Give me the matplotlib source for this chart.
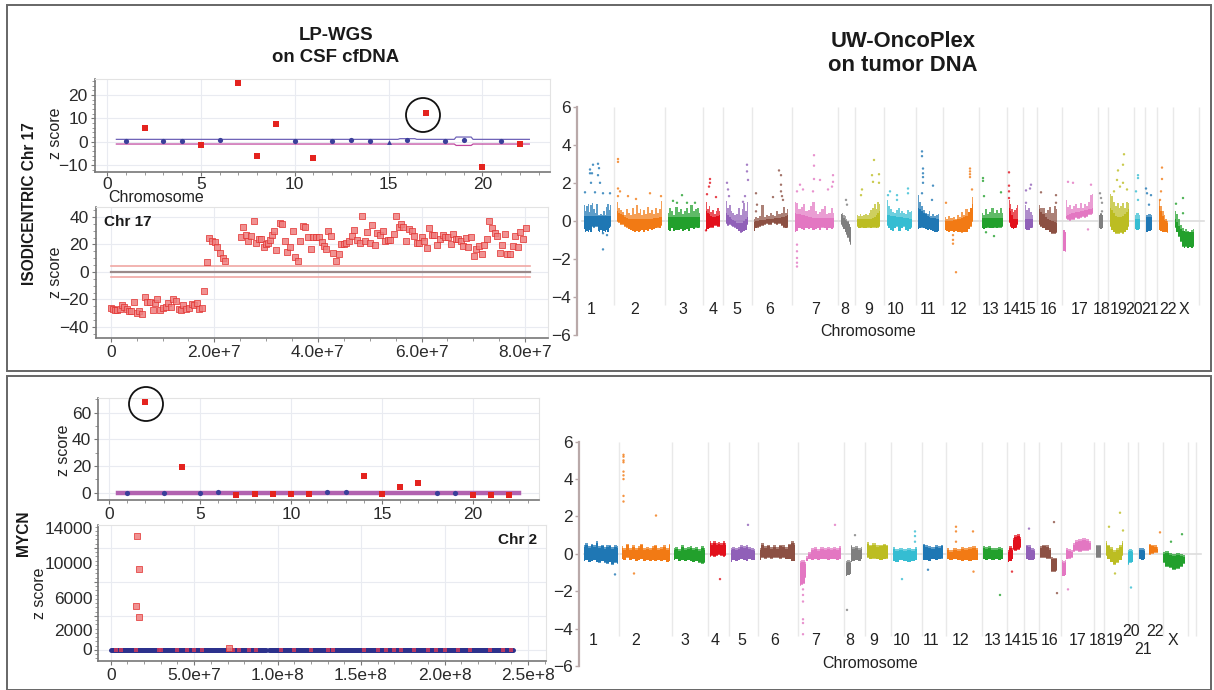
import numpy as np
import matplotlib
matplotlib.use("Agg")
import matplotlib.pyplot as plt
from matplotlib.patches import Rectangle, Ellipse
from matplotlib.ticker import MultipleLocator

plt.rcParams['font.family'] = ['Liberation Sans', 'DejaVu Sans']

W, H = 1214, 690

# ---------- LP-WGS, isodicentric 17: genome-wide ----------
a_red_chr = [2, 5, 7, 8, 9, 11, 17, 20, 22]
a_red_z = [6, -1.5, 25, -6, 7.5, -7, 12.2, -11, -1]
a_blue_chr = [1, 3, 4, 6, 10, 12, 13, 14, 16, 18, 19, 21]
a_blue_z = [.5, .3, .3, .8, .1, .5, .6, .4, .8, .4, .8, .3]
a_tri_chr = [15]
a_tri_z = [-.3]
band_chr = [.5, 15.5, 15.6, 16.4, 16.5, 18.5, 18.6, 19.4, 19.5, 22.5]
a_band_hi = [1, 1, 1.3, 1.3, 1, 1, 2, 2, 1, 1]
a_band_lo = [-1, -1, -1, -1, -1, -1, -1.6, -1.6, -1, -1]

# ---------- LP-WGS, Chr 17 bins ----------
c17_pos = [0, .4, .8, 1.3, 1.7, 2.1, 2.6, 3.1, 3.6, 4.0, 4.5, 5.0, 5.5, 6.0, 6.6, 7.1, 7.6, 8.1, 8.5, 9.0,
           9.5, 10.0, 10.6, 11.1, 11.6, 12.1, 12.6, 13.1, 13.6, 14.0, 14.5, 15.1, 15.6, 16.1, 16.6, 17.1, 17.6, 18.0,
           18.5, 19.0, 19.6, 20.1, 20.6, 21.1, 21.6, 22.0,
           25.1, 25.6, 26.1, 26.6, 27.0, 27.6, 28.1, 28.6, 29.1, 29.6, 30.0, 30.4, 30.8, 31.1, 31.5, 32.0, 32.6, 33.1,
           33.6, 34.1, 34.6, 35.1, 35.6, 36.1, 36.6, 37.1, 37.6, 38.1, 38.6, 39.1, 39.6, 40.2, 40.7, 41.1, 41.6,
           41.9, 42.5, 43.0, 43.5, 44.0, 44.5, 45.0, 45.5, 46.1, 46.5, 47.0, 47.5, 48.1, 48.5, 49.0, 49.5, 50.0, 50.5,
           51.0, 51.5, 52.0, 52.5, 53.0, 53.5, 54.0, 54.6, 55.1, 55.6, 56.1, 56.5, 57.1, 57.6, 58.1, 58.6, 59.1, 59.6,
           60.0, 60.5, 61.0, 61.5, 62.0, 62.5, 63.0, 63.5, 64.1, 64.6, 65.1, 65.6, 66.1, 66.6, 67.1, 67.6, 68.1, 68.6,
           69.0, 69.5, 70.1, 70.6, 71.1, 71.6, 72.1, 72.6, 73.1, 73.6, 74.1, 74.6, 75.1, 75.6, 76.1, 76.6, 77.1, 77.7,
           78.1, 78.6, 79.1, 79.6, 80.1]
c17_z = [-26.2, -27.2, -27.6, -27.6, -26.7, -23.8, -25.2, -26.7, -28.1, -28.1, -22.1, -29.6, -28.6, -30.5, -18.4,
         -21.8, -22.1, -27.6, -22.5, -19.4, -27.6, -26.2, -25.2, -22.3, -25.2, -19.9, -21.3, -27.2, -27.6, -23.8,
         -26.7, -26.2, -23.3, -23.8, -22.8, -27.2, -26.2, -13.8,
         7.3, 24.7, 22.3, 21.8, 18.4, 13.6, 10.2, 8.2,
         25.2, 33.0, 27.2, 22.8, 25.9, 37.1, 21.3, 23.8, 23.8, 18.2, 20.4, 21.3, 23.5, 26.7, 29.6, 15.8, 35.9, 34.7,
         22.8, 14.8, 17.9, 29.8, 10.7, 8.0, 22.3, 33.2, 33.0, 25.5, 16.7, 25.5, 25.5, 25.5, 21.8, 18.9, 17.0,
         29.6, 26.2, 13.6, 8.2, 12.8, 20.4, 20.4, 21.3, 22.5, 26.4, 30.3, 23.3, 20.8, 40.7, 22.5, 28.8, 21.1, 34.2,
         19.9, 28.1, 27.2, 29.6, 22.3, 23.3, 23.5, 27.9, 41.0, 32.7, 35.2, 32.5, 22.3, 31.3, 30.1, 26.2, 20.8, 20.8,
         25.7, 22.8, 17.7, 32.2, 26.9, 26.7, 19.6, 24.2, 26.7, 25.2, 25.2, 20.6, 27.4, 24.2, 24.2, 22.3, 18.7, 24.7,
         17.9, 25.7, 11.4, 17.0, 19.2, 13.3, 19.9, 24.2, 37.1, 32.0, 28.6, 26.2, 14.1, 19.4, 27.4, 13.3, 13.1, 18.7,
         26.2, 17.9, 29.1, 24.0, 32.2]

# ---------- LP-WGS, MYCN: genome-wide ----------
c_red_chr = [2, 4, 7, 8, 9, 10, 11, 14, 15, 16, 17, 20, 21, 22]
c_red_z = [68, 19, -1.5, -1, -1, -1, -1, 12.5, -1, 4, 7, -1.5, -2, -1.5]
c_blue_chr = [1, 3, 5, 6, 12, 13, 18, 19]
c_blue_z = [-.5, 0, -.3, .3, .5, .2, 0, 0]

# ---------- LP-WGS, Chr 2 bins ----------
d_high_pos = [16.05, 16.7, 15.2, 17.1, 70.6]
d_high_z = [13370, 9490, 5180, 3840, 200]
d_base_pos = [3, 6, 15, 29, 30, 40, 46, 50, 55, 70, 73, 77, 83, 87, 102, 110, 120, 130, 133, 152, 160, 165, 170,
              174, 182, 190, 195, 200, 208, 215, 227, 235, 240]
d_base_z = [-60] * len(d_base_pos)
d_line_a = [0, 93]
d_line_b = [95, 241]
d_line_z = [0, 0]

# ---------- UW-OncoPlex ----------
tab = {'blue': '#1f77b4', 'orange': '#f27a14', 'green': '#22a02c', 'red': '#e2101c', 'purple': '#9060b8',
       'brown': '#8c5043', 'pink': '#e377c2', 'grey': '#7f7f7f', 'olive': '#bcbd22', 'cyan': '#35bdd2'}

chrom_names = ['1', '2', '3', '4', '5', '6', '7', '8', '9', '10', '11', '12', '13', '14', '15', '16', '17', '18',
               '19', '20', '21', '22', 'X']

top_bounds = [614, 665, 703, 723, 752, 792, 838, 855, 884, 916, 943, 979, 1007, 1023, 1037, 1062, 1098, 1108, 1134,
              1145, 1157, 1173, 1199]
top_label_pos = [591, 635, 683, 713.5, 737, 770, 815.5, 845, 868.6, 896, 928, 959, 991, 1012, 1028, 1048.7, 1080,
                 1102, 1118.7, 1134.5, 1150, 1168, 1183.6]
# start, end, colour, dense-core ceiling, upper envelope, lower envelope
top_blocks = [
    (584, 611, 'blue', [.25], [.85, .5, .8, .9, .45, .85, .95, .6, .4, .9, .3, .3, .35, .3, .5, .3, .75, .9, .55, .85],
     [-.45, -.6, -.55, -.6, -.5, -.6, -.3, -.35, -.3, -.3, -.55, -.6, -.5, -.65, -.55, -.6, -.5, -.6, -.4, -.3]),
    (617, 662, 'orange', [.5, .1, .1, .1, .2],
     [1.0, .7, .55, .45, .3, .6, .4, .3, .7, .35, .85, .4, .6, .3, .55, .35, .75, .4, .55, .35, .7, .4, .6, 1.05],
     [-.05, -.1, -.2, -.2, -.3, -.35, -.45, -.5, -.55, -.6, -.55, -.6, -.55, -.5, -.6, -.5, -.55, -.45, -.5, -.45, -.4, -.35, -.4, -.25]),
    (668, 700, 'green', [.2], [.4, .7, .5, .3, .75, .45, .6, .35, .5, .7, .4, .85, .5, .6, .7, .4],
     [-.5, -.55, -.4, -.55, -.5, -.5, -.45, -.55, -.5, -.45, -.55, -.4, -.45, -.35, -.4, -.35]),
    (706, 720, 'red', [.5, .2, .3], [1.0, .6, .8, .45, .55, .35, .5, .65, .5],
     [-.55, -.45, -.4, -.35, -.35, -.25, -.25, -.3, -.3]),
    (726, 748, 'purple', [.4, .1, -.1, -.1, .2], [1.05, .7, .85, .5, .4, .3, .35, .7, .3, .6, .95, .5, 1.0],
     [-.15, -.25, -.2, -.25, -.3, -.35, -.45, -.55, -.65, -.6, -.55, -.5, -.2]),
    (754, 788, 'brown', [-.05, .05, .1, .15, .3], [.1, .2, .15, .25, .85, .2, .3, .25, .4, .3, .25, .5, .35, .4, .75, .4, .6],
     [-.55, -.4, -.35, -.3, -.25, -.2, -.15, -.2, -.2, -.1, -.15, -.2, -.15, -.25, -.35, -.4, -.35]),
    (795, 834, 'pink', [.4, .15, .15], [1, .95, .6, .75, .9, .5, .55, .8, 1, .5, .35, .45, .6, .8, .35, .4, .7, .4],
     [-.6, -.55, -.4, -.45, -.5, -.4, -.45, -.4, -.5, -.45, -.4, -.5, -.35, -.4, -.5, -.4, -.45, -.35]),
    (841, 851, 'grey', [.4, 0, -.2], [.35, .4, .3, .25, .1, 0, -.15, -.3], [-.2, -.3, -.45, -.6, -.75, -.9, -1.1, -1.25]),
    (857, 880, 'olive', [.1, .1, .1, .5], [.3, .25, .35, .25, .3, .35, .3, .4, .55, .7, .9, .6, 1, .9],
     [-.3, -.4, -.4, -.35, -.4, -.4, -.35, -.35, -.4, -.35, -.35, -.4, -.35, -.3]),
    (887, 912, 'cyan', [.3, .1], [1.1, .8, .6, .45, .4, .55, .7, .4, .5, .4, .35, .55, .45, .5],
     [-.25, -.4, -.5, -.55, -.4, -.3, -.55, -.55, -.4, -.3, -.5, -.55, -.45, -.35]),
    (918, 939, 'blue', [.7, .2, .1], [1.35, 1.0, .8, .55, .4, .35, .5, .25, .35, .25, .3, .35],
     [-.45, -.4, -.35, -.4, -.45, -.5, -.45, -.5, -.55, -.6, -.6, -.55]),
    (945, 973, 'orange', [0, 0, .1, .2, .9], [.2, .1, .25, .15, .2, .1, .3, .2, .45, .3, .6, .45, .7, 1.25],
     [-.5, -.55, -.6, -.55, -.6, -.55, -.6, -.6, -.65, -.6, -.6, -.45, -.3, -.05]),
    (982, 1003, 'green', [.15], [.4, .3, .6, .35, .45, .7, .4, .55, .4, .65, .4],
     [-.4, -.45, -.4, -.35, -.4, -.4, -.35, -.4, -.35, -.35, -.3]),
    (1009, 1018, 'red', [.7, .1, .1], [1.1, .9, .6, .45, .55, .65, .85], [-.1, -.3, -.4, -.45, -.4, -.35, -.2]),
    (1025, 1033, 'purple', [.1], [.85, .55, .65, .45, .3], [-.45, -.5, -.5, -.4, -.35]),
    (1039, 1057, 'brown', [.6, .1, -.1], [.85, .65, .7, .4, .55, .75, .4, .8, .6], [-.2, -.3, -.4, -.5, -.5, -.6, -.7, -.7, -.65]),
    (1063, 1066, 'pink', [-.5], [-.5, -.6], [-1.6, -1.65]),
    (1066, 1093, 'pink', [.25, .45, .55, .65], [1.1, .75, .85, .6, .8, .9, .65, .95, .7, .9, .8, 1.0, 1.35, 1.4],
     [.1, .05, 0, .05, .05, .15, .1, .15, .2, .15, .2, .3, .3, .35]),
    (1099, 1103, 'grey', [.35], [.3, .4, .3], [-.4, -.45, -.4]),
    (1110, 1129, 'olive', [.7, .2, .2, .6], [1.4, 1.3, 1.0, .8, .95, .7, .8, .95, .7, 1.0, .95],
     [-.3, -.5, -.6, -.7, -.7, -.7, -.65, -.7, -.6, -.5, -.3]),
    (1135, 1140, 'cyan', [.1], [.3, .4, .3], [-.45, -.5, -.45]),
    (1146, 1152, 'blue', [.2], [.3, .35, .3], [-.6, -.55, -.5]),
    (1159, 1168, 'orange', [.8, .1, -.1], [1.1, .8, .5, .3, .1, 0], [-.5, -.55, -.6, -.6, -.6, -.65]),
    (1175, 1194, 'green', [.1, -.5, -.6, -.6], [.5, .35, .1, -.2, -.4, -.55, -.45, -.55, -.6, -.5, -.45],
     [-.35, -.6, -.85, -1.1, -1.35, -1.45, -1.35, -1.45, -1.4, -1.45, -1.35]),
]
top_out_x = [590, 593, 598, 599, 590, 592, 598, 591, 595, 600, 585, 603, 610, 603, 607, 603,
             618, 618, 618, 620, 618, 628, 636, 650, 661,
             673, 682, 677, 695, 687,
             710, 710, 707, 709, 716, 706,
             727, 728, 729, 747, 747, 748, 745, 743,
             756, 757, 756, 779, 781, 781, 781, 782, 783, 773,
             797, 797, 797, 797, 797, 814, 814, 814, 820, 833, 833, 832, 828, 800, 803, 797, 813,
             846, 847,
             874, 872, 879, 873, 879, 862, 861,
             890, 888, 897, 908, 908, 897,
             922, 922, 923, 923, 923, 923, 922, 933, 932,
             970, 970, 970, 970, 972, 946, 953, 953, 953, 956,
             983, 983, 984, 1001, 994, 986,
             1009, 1009, 1009, 1009,
             1031, 1030, 1026, 1026,
             1041, 1056, 1056,
             1068, 1073, 1091, 1088,
             1100, 1101, 1102, 1102,
             1124, 1123, 1118, 1117, 1123, 1127, 1114, 1120,
             1138, 1138, 1136, 1138,
             1146, 1151, 1147, 1149,
             1162, 1162, 1161, 1160,
             1183, 1176, 1183]
top_out_y = [2.7, 2.95, 3.0, 2.77, 2.5, 2.5, 2.4, 2.0, 1.5, 2.0, 1.5, 1.45, 1.45, -.65, -.75, -1.5,
             3.25, 3.1, 1.7, 1.55, 1.3, 1.3, 1.15, 1.45, 1.3,
             1.05, 1.35, .95, .95, .95,
             2.2, 2.0, 1.4, 1.8, 1.25, -.5,
             2.0, 1.65, 1.3, 2.95, 2.6, 2.15, 1.3, 1.0,
             1.45, .85, .5, 2.65, 2.4, 1.9, 1.55, 1.3, 1.1, 1.25,
             -1.25, -1.6, -1.95, -2.2, -2.4, 3.45, 2.9, 2.2, 2.15, 2.4, 2.05, 1.8, 1.65, 1.9, 1.65, 1.55, 1.55,
             1.1, .85,
             3.2, 2.4, 2.45, 2.05, 2.0, 1.65, 1.35,
             1.55, 1.35, 1.35, 1.7, 1.45, 1.1,
             3.65, 3.4, 2.75, 2.5, 2.3, 2.0, 1.45, 1.85, 1.1,
             2.75, 2.6, 2.45, 2.3, 1.65, .95, -.75, -1.0, -1.2, -2.7,
             2.25, 2.1, 1.3, 1.5, -.8, -.6,
             2.55, 1.85, 1.55, 1.2,
             1.9, 1.7, 1.6, .95,
             1.5, 1.35, .95,
             2.05, 2.0, 1.9, -.45,
             1.45, 1.2, .95, .5,
             3.5, 2.95, 2.65, 2.15, 2.0, 1.65, 1.55, 1.8,
             2.4, 2.25, 1.55, 1.1,
             1.7, 1.35, 1.45, .85,
             2.8, 2.2, 1.55, 1.1,
             1.2, .9, .4]
top_out_c = (['blue'] * 16 + ['orange'] * 9 + ['green'] * 5 + ['red'] * 6 + ['purple'] * 8 + ['brown'] * 10 +
             ['pink'] * 17 + ['grey'] * 2 + ['olive'] * 7 + ['cyan'] * 6 + ['blue'] * 9 + ['orange'] * 10 +
             ['green'] * 6 + ['red'] * 4 + ['purple'] * 4 + ['brown'] * 3 + ['pink'] * 4 + ['grey'] * 4 +
             ['olive'] * 8 + ['cyan'] * 4 + ['blue'] * 4 + ['orange'] * 4 + ['green'] * 3)

bot_bounds = [619, 672, 708, 729, 758, 798, 844, 865, 891, 922, 946, 982, 1007, 1024, 1039, 1061, 1094, 1104, 1128,
              1138, 1163, 1188, 1196]
bot_label_pos = [593, 636, 685, 715, 742, 775, 815.5, 850, 874, 901.7, 931.5, 961, 992.7, 1012.6, 1030, 1050, 1077.6,
                 1098, 1115, 1131, 1142.6, 1155, 1173]
bot_label_y = [-4.65] * 19 + [-4.16, -5.1, -4.16, -4.65]
bot_blocks = [
    (584, 618, 'blue', None, [.45, .6, .4, .55, .45, .7, .4, .5, .35, .45, .5, .35, .45, .4],
     [-.4, -.35, -.45, -.4, -.35, -.45, -.5, -.4, -.5, -.55, -.45, -.6, -.5, -.55]),
    (622, 670, 'orange', None, [.4, .3, .55, .3, .45, .3, .4, .55, .3, .35, .3, .4, .5, .3, .35, .45, .3, .55],
     [-.3, -.35, -.2, -.35, -.3, -.4, -.35, -.3, -.4, -.35, -.4, -.35, -.4, -.35, -.4, -.35, -.45, -.4]),
    (674, 705, 'green', None, [.3, .35, .25, .45, .3, .35, .4, .3, .35, .25, .4, .3],
     [-.35, -.3, -.4, -.35, -.4, -.35, -.4, -.45, -.4, -.5, -.55, -.5]),
    (710, 726, 'red', None, [.7, .6, .7, .6, .65, .6, .7, .6], [-.15, -.1, -.15, -.1, -.05, -.1, -.15, -.1]),
    (731, 755, 'purple', None, [.3, .35, .3, .35, .45, .4, .45, .35, .3, .25],
     [-.45, -.35, -.4, -.35, -.3, -.35, -.4, -.3, -.35, -.35]),
    (760, 795, 'brown', None, [.3, .6, .4, .5, .35, .45, .35, .5, .45, .35, .55, .7, .6],
     [-.35, -.2, -.25, -.2, -.25, -.2, -.2, -.25, -.2, -.3, -.3, -.4, -.4]),
    (800, 806, 'pink', None, [-.4, -.35, -.35, -.45], [-1.7, -1.65, -1.6, -1.3]),
    (806, 841, 'pink', None, [-.1, .1, .3, .35, .25, .35, .3, .35, .3, .35, .3, .4],
     [-.4, -.3, -.35, -.3, -.35, -.3, -.3, -.35, -.3, -.3, -.35, -.3]),
    (846, 851, 'grey', None, [-.4, -.35, -.4], [-1.2, -1.15, -1.1]),
    (851, 862, 'grey', None, [.5, .35, .4, .3, .35], [-.45, -.4, -.35, -.4, -.3]),
    (867, 888, 'olive', None, [.65, .5, .6, .45, .5, .55, .5], [-.2, -.3, -.25, -.3, -.35, -.3, -.25]),
    (893, 917, 'cyan', None, [.35, .25, .3, .25, .3, .25, .35], [-.4, -.45, -.35, -.4, -.45, -.4, -.35]),
    (923, 943, 'blue', None, [.55, .45, .4, .35, .45, .4, .5], [-.35, -.35, -.4, -.3, -.35, -.3, -.25]),
    (947, 978, 'orange', None, [.3, .2, .3, .25, .35, .3, .35, .4, .3], [-.3, -.35, -.3, -.35, -.4, -.35, -.4, -.35, -.35]),
    (983, 1003, 'green', None, [.4, .35, .4, .3, .3, .35, .3], [-.3, -.35, -.3, -.35, -.3, -.35, -.3]),
    (1008, 1013, 'red', None, [.2, .4, .3], [-.45, -.4, -.3]),
    (1013, 1021, 'red', None, [.85, 1.0, 1.05, .9], [.2, .15, .2, .3]),
    (1026, 1035, 'purple', None, [.5, .45, .3, .25], [-.3, -.35, -.35, -.3]),
    (1040, 1051, 'brown', None, [.4, .5, .45, .3], [-.2, -.2, -.25, -.25]),
    (1051, 1057, 'brown', None, [-.15, -.2, -.2], [-.95, -.95, -.9]),
    (1062, 1066, 'pink', None, [-.35, -.4, -.35], [-1.2, -1.2, -1.15]),
    (1066, 1073, 'pink', None, [.3, .25, .2], [-.3, -.25, -.2]),
    (1073, 1091, 'pink', None, [.6, .75, .8, .85, .8, .7], [.1, .15, .1, .15, .15, .2]),
    (1096, 1101, 'grey', None, [.5, .5], [-.2, -.2]),
    (1106, 1123, 'olive', None, [.7, .5, .35, .2, .3, .45, .7], [-.1, -.3, -.45, -.6, -.5, -.35, -.1]),
    (1128, 1133, 'cyan', None, [.2, .25, .2], [-.6, -.5, -.45]),
    (1139, 1145, 'blue', None, [.3, .3, .25], [-.3, -.35, -.3]),
    (1149, 1158, 'orange', None, [.55, .5, .45, .35], [-.05, 0, .05, .05]),
    (1163, 1185, 'green', None, [.1, .15, .05, 0, .05, 0, -.05], [-.5, -.7, -.75, -.85, -.8, -.7, -.55]),
]
bot_out_x = [615, 623.5, 623.5, 623.5, 623.5, 623.5, 623.5, 623.5, 623.5, 623.5, 656, 634, 720, 748,
             803, 803, 803, 803, 803, 803, 835, 847, 855, 915, 915, 915, 902, 928,
             956, 956, 956, 973, 973.5, 1000, 1012, 1029, 1054, 1057, 1068,
             1120, 1109, 1123, 1115, 1131, 1160, 1171, 1182]
bot_out_y = [-1.1, 5.3, 5.2, 5.0, 4.9, 4.4, 4.2, 4.0, 3.1, 2.8, 2.05, -1.05, -1.35, 1.55,
             -1.9, -2.2, -2.55, -3.5, -3.7, -4.3, 1.55, -3.0, 1.0, 1.2, .95, .65, -1.35, -.85,
             1.45, 1.2, .65, 1.2, -.95, -2.2, -.95, 1.35, 1.7, -2.1, -1.9,
             2.2, 1.45, 1.25, -1.05, -1.8, 1.15, .65, 1.05]
bot_out_c = (['blue'] + ['orange'] * 11 + ['red'] + ['purple'] + ['pink'] * 7 + ['grey'] * 2 + ['cyan'] * 4 +
             ['blue'] + ['orange'] * 5 + ['green'] + ['red'] + ['purple'] + ['brown'] * 2 + ['pink'] +
             ['olive'] * 4 + ['cyan'] + ['orange'] + ['green'] * 2)

fig = plt.figure(figsize=(W / 100, H / 100), dpi=100, facecolor='white')


def ax_px(l, t, r, b):
    return fig.add_axes([l / W, 1 - b / H, (r - l) / W, (b - t) / H])


def ftext(x, y, s, **kw):
    kw.setdefault('ha', 'center')
    kw.setdefault('va', 'center')
    kw.setdefault('color', '#222222')
    fig.text(x / W, 1 - y / H, s, **kw)


for (l, t, r, b) in [(6.5, 5, 1211, 371), (6.5, 375.5, 1211, 689.5)]:
    fig.add_artist(Rectangle((l / W, 1 - b / H), (r - l) / W, (b - t) / H, transform=fig.transFigure,
                             fill=False, ec='#666666', lw=1.4))


def style_lp(ax, xmaj, xminor, ymaj, yminor):
    ax.set_facecolor('white')
    ax.grid(True, which='major', color='#e9ebf1', lw=.8)
    ax.set_axisbelow(True)
    for s in ('top', 'right'):
        ax.spines[s].set_color('#e3e3e3')
    for s in ('left', 'bottom'):
        ax.spines[s].set_color('#777777')
        ax.spines[s].set_linewidth(1.2)
    ax.xaxis.set_major_locator(MultipleLocator(xmaj))
    ax.xaxis.set_minor_locator(MultipleLocator(xminor))
    ax.yaxis.set_major_locator(MultipleLocator(ymaj))
    ax.yaxis.set_minor_locator(MultipleLocator(yminor))
    ax.tick_params(which='major', length=3, width=.8, color='#777777', labelsize=12.5, labelcolor='#2a2a2a', pad=2)
    ax.tick_params(which='minor', length=2, width=.6, color='#888888')


RED = '#e4231f'
BLUE = '#3a3f9a'

# A
ax = ax_px(94.6, 79, 550, 172)
ax.set_xlim(-.66, 23.6)
ax.set_ylim(-13, 26.9)
style_lp(ax, 5, 1, 10, 2)
ax.set_xticks([0, 5, 10, 15, 20])
ax.tick_params(axis='x', which='major', pad=.5)
ax.plot(band_chr, a_band_hi, color='#6f63b8', lw=.9, zorder=2)
ax.plot(band_chr, a_band_lo, color='#c0479f', lw=.9, zorder=2)
ax.scatter(a_blue_chr, a_blue_z, s=14, color=BLUE, zorder=3, lw=0)
ax.scatter(a_tri_chr, a_tri_z, s=12, color=BLUE, marker='^', zorder=3, lw=0)
ax.scatter(a_red_chr, a_red_z, s=13, color=RED, marker='s', zorder=4, lw=0)

# B
ax = ax_px(95.7, 207, 548, 338)
ax.set_xlim((95.7 - 110.7) / 5.18, (548 - 110.7) / 5.18)
ax.set_ylim(-48, 47.2)
style_lp(ax, 20, 5, 20, 5)
ax.set_xticks([0, 20, 40, 60, 80])
ax.set_xticklabels(['0', '2.0e+7', '4.0e+7', '6.0e+7', '8.0e+7'])
ax.plot([0, 81], [4, 4], color='#f0a7a3', lw=1.2, zorder=2)
ax.plot([0, 81], [-4, -4], color='#f0a7a3', lw=1.2, zorder=2)
ax.plot([0, 81], [0, 0], color='#9a8a8a', lw=1.6, zorder=2)
ax.scatter(c17_pos, c17_z, s=15, marker='s', facecolor='#ee7f7f', edgecolor='#e2312f', lw=.6, alpha=.85, zorder=3)

# C
ax = ax_px(98, 398, 538.6, 500)
ax.set_xlim((98 - 109) / 18.2, (538.6 - 109) / 18.2)
ax.set_ylim(-5.5, 71)
style_lp(ax, 5, 1, 20, 10)
ax.set_xticks([0, 5, 10, 15, 20])
ax.plot([.5, 22.5], [0, 0], color='#b262b0', lw=3.2, zorder=2)
ax.scatter(c_blue_chr, c_blue_z, s=14, color=BLUE, zorder=3, lw=0)
ax.scatter(c_red_chr, c_red_z, s=14, color=RED, marker='s', zorder=4, lw=0)

# D
ax = ax_px(98, 525, 546, 660.7)
ax.set_xlim((98 - 110.7) / 1.669, (546 - 110.7) / 1.669)
ax.set_ylim(-1260, 14700)
style_lp(ax, 50, 10, 4000, 500)
ax.set_xticks([0, 50, 100, 150, 200, 250])
ax.set_xticklabels(['0', '5.0e+7', '1.0e+8', '1.5e+8', '2.0e+8', '2.5e+8'])
ax.set_yticks([0, 4000, 8000, 12000])
ax.set_yticklabels([])
ax.plot(d_line_a, d_line_z, color='#2c318c', lw=3.6, solid_capstyle='round', zorder=3)
ax.plot(d_line_b, d_line_z, color='#2c318c', lw=3.6, solid_capstyle='round', zorder=3)
ax.scatter(d_base_pos, d_base_z, s=9, marker='s', color='#d83a5a', lw=0, alpha=.8, zorder=4)
ax.scatter(d_high_pos, d_high_z, s=15, marker='s', facecolor='#ee7f7f', edgecolor='#e2312f', lw=.6, alpha=.85, zorder=5)
for lab, val, yoff in [('14000', 14000, 1), ('10000', 10000, 0), ('6000', 6000, -.5), ('2000', 2000, 1), ('0', 0, -.5)]:
    ax.annotate(lab, xy=(0, val), xycoords=('axes fraction', 'data'), xytext=(-4, yoff), textcoords='offset points',
                ha='right', va='center', fontsize=12.5, color='#2a2a2a')


def draw_genome(l, r, t, b, bounds, blocks, ox, oy, oc, labels, lab_y):
    ax = ax_px(l, t, r, b)
    ax.set_xlim(l, r)
    ax.set_ylim(-6, 6)
    ax.patch.set_alpha(0)
    for s in ('top', 'right', 'bottom'):
        ax.spines[s].set_visible(False)
    ax.spines['left'].set_color('#b9a9a9')
    ax.spines['left'].set_linewidth(1.6)
    ax.set_xticks([])
    ax.set_yticks([-6, -4, -2, 0, 2, 4, 6])
    ax.set_yticklabels(['\u22126', '\u22124', '\u22122', '0', '2', '4', '6'])
    ax.tick_params(axis='y', length=3, width=1, color='#b9a9a9', labelsize=12.5, labelcolor='#2a2a2a', pad=1.5)
    ax.vlines(bounds, -4.4, 6, color='#e9e9e9', lw=1, zorder=1)
    ax.plot([l + 5, bounds[-1] + 5], [0, 0], color='#dddddd', lw=1.2, zorder=1)
    for x0, x1, c, core, hi, lo in blocks:
        xs = np.linspace(x0, x1, len(hi))
        hi = np.array(hi, float)
        lo = np.array(lo, float)
        if core is None:
            top = hi - .1
        elif len(core) == 1:
            top = np.minimum(hi, core[0])
        else:
            top = np.minimum(hi, np.interp(xs, np.linspace(x0, x1, len(core)), core))
        top = np.maximum(top, lo)
        ax.fill_between(xs, lo, hi, step='mid', color=tab[c], alpha=.72, lw=0, zorder=3)
        ax.fill_between(xs, lo + .04, top, step='mid', color=tab[c], lw=0, zorder=3)
    ax.scatter(ox, oy, s=3, c=[tab[c] for c in oc], alpha=.8, lw=0, zorder=2)
    for x, y, name in zip(labels, lab_y, chrom_names):
        ax.text(x, y, name, ha='center', va='center', fontsize=11.5, color='#222222', zorder=5)
    return ax


draw_genome(577, 1214, 106.7, 335, top_bounds, top_blocks, top_out_x, top_out_y, top_out_c,
            top_label_pos, [-4.65] * 23)
draw_genome(579, 1214, 441.7, 666, bot_bounds, bot_blocks, bot_out_x, bot_out_y, bot_out_c,
            bot_label_pos, bot_label_y)

# text
ftext(336, 35, 'LP-WGS', fontsize=13.4, fontweight='bold', color='#1a1a1a')
ftext(336, 57.5, 'on CSF cfDNA', fontsize=13.4, fontweight='bold', color='#1a1a1a')
ftext(903, 41.5, 'UW-OncoPlex', fontsize=15.8, fontweight='bold', color='#1a1a1a')
ftext(903, 65.5, 'on tumor DNA', fontsize=15.8, fontweight='bold', color='#1a1a1a')
ftext(29.5, 203.5, 'ISODICENTRIC Chr 17', rotation=90, fontsize=11.2, fontweight='bold', color='#1a1a1a')
ftext(24, 533, 'MYCN', rotation=90, fontsize=11.2, fontweight='bold', color='#1a1a1a')
ftext(55, 133, 'z score', rotation=90, fontsize=11.5)
ftext(55, 272, 'z score', rotation=90, fontsize=11.5)
ftext(63.5, 450, 'z score', rotation=90, fontsize=11.5)
ftext(39, 593, 'z score', rotation=90, fontsize=11.5)
ftext(156, 198, 'Chromosome', fontsize=11.5)
ftext(868.5, 331.5, 'Chromosome', fontsize=11.5)
ftext(870, 663.5, 'Chromosome', fontsize=11.5)
ftext(128, 222.5, 'Chr 17', fontsize=11, fontweight='bold', color='#1a1a1a')
ftext(537, 540, 'Chr 2', ha='right', fontsize=11, fontweight='bold', color='#1a1a1a')

for cx, cy in [(423, 115), (146, 404)]:
    fig.add_artist(Ellipse((cx / W, 1 - cy / H), 34 / W, 34 / H, transform=fig.transFigure,
                           fill=False, ec='#111111', lw=1.3))

fig.savefig('out.png', dpi=100)
